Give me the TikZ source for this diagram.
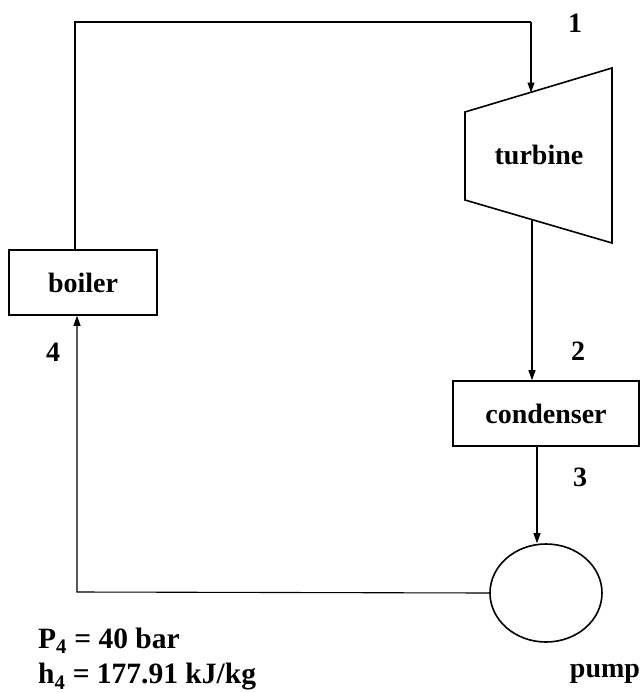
\documentclass[tikz,border=0pt]{standalone}
\usepackage{fontspec}
\setmainfont{Liberation Serif}
\usetikzlibrary{arrows.meta,shapes.geometric}
\begin{document}
\begin{tikzpicture}[x=1pt,y=-1pt,
  lbl/.style={font=\fontsize{28}{32}\selectfont\bfseries, inner sep=0pt},
  biglbl/.style={font=\fontsize{29.5}{34}\selectfont\bfseries, inner sep=0pt},
  unit/.style={draw, line width=1.6pt, font=\fontsize{28}{32}\selectfont\bfseries, inner sep=0pt},
  flow/.style={line width=1.1pt, -{Triangle[length=10pt,width=7pt]}},
  pipe/.style={line width=1.1pt}]
\useasboundingbox (0,0) rectangle (642,693);
% turbine
\coordinate (tA) at (465,112);
\coordinate (tB) at (612,68);
\coordinate (tC) at (612,243);
\coordinate (tD) at (465,200);
\draw[line width=1.6pt] (tA) -- (tB) -- (tC) -- (tD) -- cycle;
\node[lbl] (turbine) at (539,155) {turbine};
\coordinate (tin) at (531,92.5);
\coordinate (tout) at (532,219.5);
% boiler
\node[unit, minimum width=148pt, minimum height=65pt] (boiler) at (83,282.5) {boiler};
% condenser
\node[unit, minimum width=186pt, minimum height=65pt] (cond) at (546,413.5) {condenser};
% pump
\node[draw, ellipse, line width=1.6pt, minimum width=112pt, minimum height=98pt, inner sep=0pt] (pump) at (546,593) {};
% corners of pipes
\coordinate (c1) at (75,22);
\coordinate (c2) at (531,22);
\coordinate (c3) at (77,592);
% connectors
\draw[pipe] (boiler.north -| c1) -- (c1) -- (c2);
\draw[flow] (c2) -- (tin);
\draw[flow] (tout) -- (tout |- cond.north);
\draw[flow] (cond.south -| 537,0) -- (pump.north -| 537,0);
\draw[flow] (pump.west) -- (c3) -- (c3 |- boiler.south);
% labels
\node[lbl] (l1) at (575,23) {1};
\node[lbl] (l2) at (578,351) {2};
\node[lbl] (l3) at (580,477) {3};
\node[lbl] (l4) at (53,352) {4};
\node[lbl] (lpump) at (605,674) {pump};
\node[biglbl, anchor=west] (p4) at (38,641) {P\textsubscript{4} = 40 bar};
\node[biglbl, anchor=west] (h4) at (38,677) {h\textsubscript{4} = 177.91 kJ/kg};
\end{tikzpicture}
\end{document}
